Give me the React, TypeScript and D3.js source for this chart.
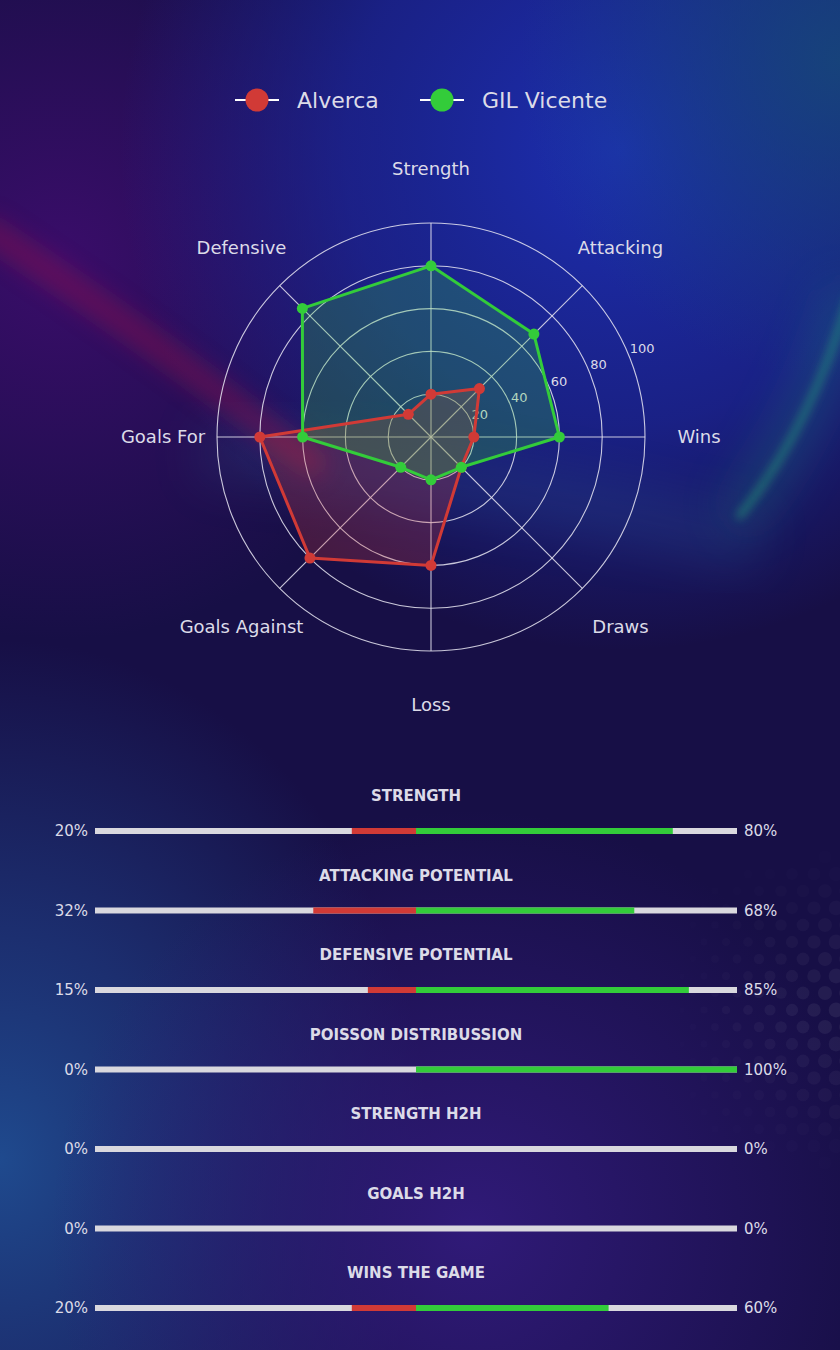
import * as d3 from "d3";

const W = 840;
const H = 1350;
const FONT = "'DejaVu Sans', sans-serif";
const TEXT = "#dcdbe8";
const RED = "#d13a36";
const GREEN = "#33cc3a";
const TRACK = "#d9d8de";

// radar
const AXES = ["Strength", "Attacking", "Wins", "Draws", "Loss", "Goals Against", "Goals For", "Defensive"];
const ALVERCA = [20, 32, 20, 20, 60, 80, 80, 15];
const GIL = [80, 68, 60, 20, 20, 20, 60, 85];
const RINGS = [20, 40, 60, 80, 100];
const TEAMS = ["Alverca", "GIL Vicente"];

// comparison bars
const METRICS = [
  "STRENGTH",
  "ATTACKING POTENTIAL",
  "DEFENSIVE POTENTIAL",
  "POISSON DISTRIBUSSION",
  "STRENGTH H2H",
  "GOALS H2H",
  "WINS THE GAME",
];
const HOME_PCT = [20, 32, 15, 0, 0, 0, 20];
const AWAY_PCT = [80, 68, 85, 100, 0, 0, 60];

function Background() {
  // decorative dot pattern, bottom right
  const dots: { x: number; y: number; r: number; o: number }[] = [];
  for (let row = 0; row < 20; row++) {
    for (let col = 0; col < 9; col++) {
      const x = 660 + col * 22 + (row % 2) * 11;
      const y = 840 + row * 17;
      const fx = (x - 660) / 180;
      const fy = 1 - Math.abs(y - 1010) / 170;
      const o = Math.max(0, fx * fy) * 0.07;
      if (o > 0.005) dots.push({ x, y, r: 2.5 + fx * 5, o });
    }
  }
  return (
    <g>
      <defs>
        <radialGradient id="gBlue" cx="620" cy="150" r="500" gradientUnits="userSpaceOnUse">
          <stop offset="0" stopColor="#1c2fb2" />
          <stop offset="0.55" stopColor="#1b28a0" stopOpacity="0.7" />
          <stop offset="1" stopColor="#1b28a0" stopOpacity="0" />
        </radialGradient>
        <radialGradient id="gTeal" cx="840" cy="60" r="320" gradientUnits="userSpaceOnUse">
          <stop offset="0" stopColor="#164878" stopOpacity="0.85" />
          <stop offset="1" stopColor="#164878" stopOpacity="0" />
        </radialGradient>
        <radialGradient id="gPurple" cx="60" cy="260" r="380" gradientUnits="userSpaceOnUse">
          <stop offset="0" stopColor="#3a0d6a" />
          <stop offset="1" stopColor="#3a0d6a" stopOpacity="0" />
        </radialGradient>
        <radialGradient id="gBotBlue" cx="0" cy="1160" r="1" gradientUnits="userSpaceOnUse"
          gradientTransform="translate(0 1160) scale(430 520) translate(0 -1160)">
          <stop offset="0" stopColor="#1f4a8e" />
          <stop offset="0.45" stopColor="#1e3b80" stopOpacity="0.7" />
          <stop offset="1" stopColor="#1e3b80" stopOpacity="0" />
        </radialGradient>
        <radialGradient id="gBotPurple" cx="470" cy="1230" r="420" gradientUnits="userSpaceOnUse">
          <stop offset="0" stopColor="#301a78" />
          <stop offset="1" stopColor="#301a78" stopOpacity="0" />
        </radialGradient>
        <filter id="blurL" x="-50%" y="-50%" width="200%" height="200%">
          <feGaussianBlur stdDeviation="24" />
        </filter>
        <filter id="blurM" x="-50%" y="-50%" width="200%" height="200%">
          <feGaussianBlur stdDeviation="12" />
        </filter>
        <filter id="blurS" x="-50%" y="-50%" width="200%" height="200%">
          <feGaussianBlur stdDeviation="5" />
        </filter>
      </defs>
      <rect width={W} height={H} fill="#170f46" />
      <rect width={W} height={H} fill="url(#gPurple)" />
      <rect width={W} height={H} fill="url(#gBlue)" />
      <rect width={W} height={H} fill="url(#gTeal)" />
      <rect width={W} height={H} fill="url(#gBotBlue)" />
      <rect width={W} height={H} fill="url(#gBotPurple)" />
      {/* soft light band behind radar */}
      <path d="M 200 450 Q 470 470 760 545" fill="none" stroke="#2f5c94" strokeWidth={60}
        opacity={0.22} filter="url(#blurL)" />
      {/* red swoosh */}
      <path d="M -20 225 Q 170 350 320 470" fill="none" stroke="#9a1248" strokeWidth={22}
        opacity={0.5} filter="url(#blurM)" />
      {/* green swoosh */}
      <path d="M 850 290 Q 810 430 735 520" fill="none" stroke="#1f8f7a" strokeWidth={34}
        opacity={0.35} filter="url(#blurL)" />
      <path d="M 850 295 Q 810 430 738 518" fill="none" stroke="#27b87a" strokeWidth={6}
        opacity={0.55} filter="url(#blurS)" />
      {dots.map((d, i) => (
        <circle key={i} cx={d.x} cy={d.y} r={d.r} fill="#ffffff" opacity={d.o} />
      ))}
    </g>
  );
}

function Radar() {
  const cx = 431;
  const cy = 437;
  const R = 214;
  const r = d3.scaleLinear().domain([0, 100]).range([0, R]);
  const angle = d3.scalePoint<string>().domain(AXES).range([0, (2 * Math.PI * (AXES.length - 1)) / AXES.length]);
  const pt = (a: number, rad: number): [number, number] => [cx + rad * Math.sin(a), cy - rad * Math.cos(a)];
  const line = d3
    .lineRadial<number>()
    .angle((_d, i) => angle(AXES[i])!)
    .radius((d) => r(d))
    .curve(d3.curveLinearClosed);
  const labelA = (67.5 * Math.PI) / 180;

  const series = [
    { name: TEAMS[0], vals: ALVERCA, color: RED },
    { name: TEAMS[1], vals: GIL, color: GREEN },
  ];

  return (
    <g>
      {/* legend */}
      {series.map((s, i) => {
        const x = 257 + i * 185;
        return (
          <g key={s.name}>
            <line x1={x - 22} x2={x + 22} y1={100} y2={100} stroke="#ffffff" strokeWidth={2} />
            <circle cx={x} cy={100} r={11.5} fill={s.color} />
            <text x={x + 40} y={108} fill={TEXT} fontSize={22} fontFamily={FONT}>{s.name}</text>
          </g>
        );
      })}

      {/* grid */}
      {RINGS.map((v) => (
        <circle key={v} cx={cx} cy={cy} r={r(v)} fill="none" stroke="#e8e6f2" strokeWidth={1.1} opacity={0.85} />
      ))}
      {AXES.map((a) => {
        const [x, y] = pt(angle(a)!, R);
        return <line key={a} x1={cx} y1={cy} x2={x} y2={y} stroke="#e8e6f2" strokeWidth={1.1} opacity={0.85} />;
      })}
      {RINGS.map((v) => {
        const [x, y] = pt(labelA, r(v));
        return (
          <text key={v} x={x + 1} y={y - 2} fill={TEXT} fontSize={13} fontFamily={FONT}>{v}</text>
        );
      })}
      {AXES.map((a) => {
        const [x, y] = pt(angle(a)!, 268);
        return (
          <text key={a} x={x} y={y} dy="0.35em" textAnchor="middle" fill={TEXT} fontSize={18} fontFamily={FONT}>{a}</text>
        );
      })}

      {/* fills first, then outlines so lines stay bright */}
      <g transform={`translate(${cx},${cy})`}>
        {series.map((s) => (
          <path key={s.name} d={line(s.vals) ?? ""} fill={s.color} fillOpacity={0.25} stroke="none" />
        ))}
        {series.map((s) => (
          <g key={s.name}>
            <path d={line(s.vals) ?? ""} fill="none" stroke={s.color} strokeWidth={3} strokeLinejoin="round" />
            {s.vals.map((v, i) => {
              const a = angle(AXES[i])!;
              return <circle key={i} cx={r(v) * Math.sin(a)} cy={-r(v) * Math.cos(a)} r={5.5} fill={s.color} />;
            })}
          </g>
        ))}
      </g>
    </g>
  );
}

function Bars() {
  const x0 = 95;
  const x1 = 737;
  const mid = (x0 + x1) / 2;
  const half = d3.scaleLinear().domain([0, 100]).range([0, mid - x0]);
  const y = d3.scaleLinear().domain([0, METRICS.length - 1]).range([831, 1308]);
  const bh = 6;
  return (
    <g fontFamily={FONT}>
      {METRICS.map((m, i) => {
        const yy = y(i);
        return (
          <g key={m}>
            <text x={mid} y={yy - 30} textAnchor="middle" fill={TEXT} fontSize={15} fontWeight="bold">{m}</text>
            <rect x={x0} y={yy - bh / 2} width={x1 - x0} height={bh} fill={TRACK} />
            <rect x={mid - half(HOME_PCT[i])} y={yy - bh / 2} width={half(HOME_PCT[i])} height={bh} fill={RED} />
            <rect x={mid} y={yy - bh / 2} width={half(AWAY_PCT[i])} height={bh} fill={GREEN} />
            <text x={x0 - 7} y={yy} dy="0.35em" textAnchor="end" fill={TEXT} fontSize={15}>{HOME_PCT[i]}%</text>
            <text x={x1 + 7} y={yy} dy="0.35em" textAnchor="start" fill={TEXT} fontSize={15}>{AWAY_PCT[i]}%</text>
          </g>
        );
      })}
    </g>
  );
}

export default function App() {
  return (
    <svg width={W} height={H} style={{ display: "block", position: "absolute", left: 0, top: 0 }}>
      <Background />
      <Radar />
      <Bars />
    </svg>
  );
}
